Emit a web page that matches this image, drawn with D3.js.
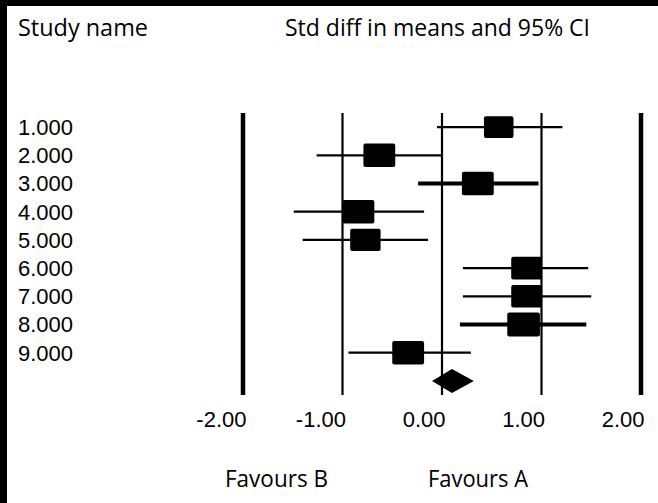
<!DOCTYPE html>
<html>
<head>
<meta charset="utf-8">
<script src="https://cdn.jsdelivr.net/npm/d3@7"></script>
<style>
  html, body { margin: 0; padding: 0; background: #fff; }
  svg { display: block; }
</style>
</head>
<body>
<div id="canvas"></div>
<script>
// Forest plot: std diff in means with 95% CI

const width = 658, height = 503;

const studies = ["1.000", "2.000", "3.000", "4.000", "5.000", "6.000", "7.000", "8.000", "9.000"];
const effect  = [0.57, -0.63, 0.36, -0.84, -0.77, 0.85, 0.85, 0.82, -0.34];
const lower   = [-0.05, -1.26, -0.24, -1.49, -1.40, 0.21, 0.21, 0.18, -0.94];
const upper   = [1.21, 0.00, 0.97, -0.18, -0.14, 1.47, 1.50, 1.45, 0.29];
const weight  = [10.0, 11.6, 11.6, 11.6, 10.6, 10.8, 10.8, 12.2, 11.6];
const summary = [0.10, -0.10, 0.32]; // effect, lower, upper
const tickValues = [-2, -1, 0, 1, 2];

const svg = d3.select("#canvas").append("svg")
  .attr("width", width).attr("height", height);

// frame: black strip on top and left
svg.append("rect").attr("width", width).attr("height", height).attr("fill", "#000");
svg.append("rect").attr("x", 7).attr("y", 6)
  .attr("width", width - 7).attr("height", height - 6).attr("fill", "#fff");

const rows = studies.concat(["summary"]);
const x = d3.scaleLinear().domain([-2, 2]).range([243, 641]);
const y = d3.scaleBand().domain(rows).range([113, 395]);
const yc = d => y(d) + y.bandwidth() / 2;
const side = d3.scaleSqrt().domain([0, d3.max(weight)]).range([0, 24]);

const headFont = "'Open Sans', sans-serif";
const numFont = "'Liberation Sans', Arial, sans-serif";

// headers
svg.append("text").attr("x", 18).attr("y", 36)
  .attr("font-family", headFont).attr("font-size", 24.5)
  .attr("textLength", 130).attr("lengthAdjust", "spacingAndGlyphs")
  .text("Study name");
svg.append("text").attr("x", 285).attr("y", 36)
  .attr("font-family", headFont).attr("font-size", 24.5)
  .attr("textLength", 305).attr("lengthAdjust", "spacingAndGlyphs")
  .text("Std diff in means and 95% CI");

// study labels
svg.append("g").selectAll("text").data(studies).join("text")
  .attr("x", 18).attr("y", d => yc(d)).attr("dy", "0.36em")
  .attr("font-family", numFont).attr("font-size", 22)
  .text(d => d);

// vertical reference lines
svg.append("g").selectAll("line").data(tickValues).join("line")
  .attr("x1", d => x(d)).attr("x2", d => x(d))
  .attr("y1", y.range()[0]).attr("y2", y.range()[1])
  .attr("stroke", "#000")
  .attr("stroke-width", d => Math.abs(d) === 2 ? 4.5 : 2.2);

// CI lines
const thick = new Set([2, 7]);
svg.append("g").selectAll("line").data(studies).join("line")
  .attr("x1", (d, i) => x(lower[i])).attr("x2", (d, i) => x(upper[i]))
  .attr("y1", d => yc(d)).attr("y2", d => yc(d))
  .attr("stroke", "#000")
  .attr("stroke-width", (d, i) => thick.has(i) ? 4 : 2.2);

// boxes
svg.append("g").selectAll("rect").data(studies).join("rect")
  .attr("x", (d, i) => x(effect[i]) - side(weight[i]) * 0.68)
  .attr("y", (d, i) => yc(d) - side(weight[i]) / 2)
  .attr("width", (d, i) => side(weight[i]) * 1.36)
  .attr("height", (d, i) => side(weight[i]))
  .attr("rx", 2)
  .attr("fill", "#000");

// summary diamond
const sy = yc("summary");
svg.append("path")
  .attr("d", `M${x(summary[1])},${sy} L${x(summary[0])},${sy - 12} L${x(summary[2])},${sy} L${x(summary[0])},${sy + 12} Z`)
  .attr("fill", "#000");

// axis labels (right-aligned to the tick)
const axis = d3.axisBottom(x).tickValues(tickValues).tickSize(0)
  .tickFormat(d => d.toFixed(2));
const gx = svg.append("g").attr("transform", "translate(0,408)").call(axis);
gx.select(".domain").remove();
gx.selectAll("text")
  .attr("text-anchor", "end").attr("dx", 3).attr("dy", "0.71em")
  .attr("font-family", numFont).attr("font-size", 22).attr("fill", "#000");

// favours
svg.append("text").attr("x", 225).attr("y", 487)
  .attr("font-family", headFont).attr("font-size", 24.5)
  .attr("textLength", 103).attr("lengthAdjust", "spacingAndGlyphs")
  .text("Favours B");
svg.append("text").attr("x", 428).attr("y", 487)
  .attr("font-family", headFont).attr("font-size", 24.5)
  .attr("textLength", 100).attr("lengthAdjust", "spacingAndGlyphs")
  .text("Favours A");
</script>
</body>
</html>
